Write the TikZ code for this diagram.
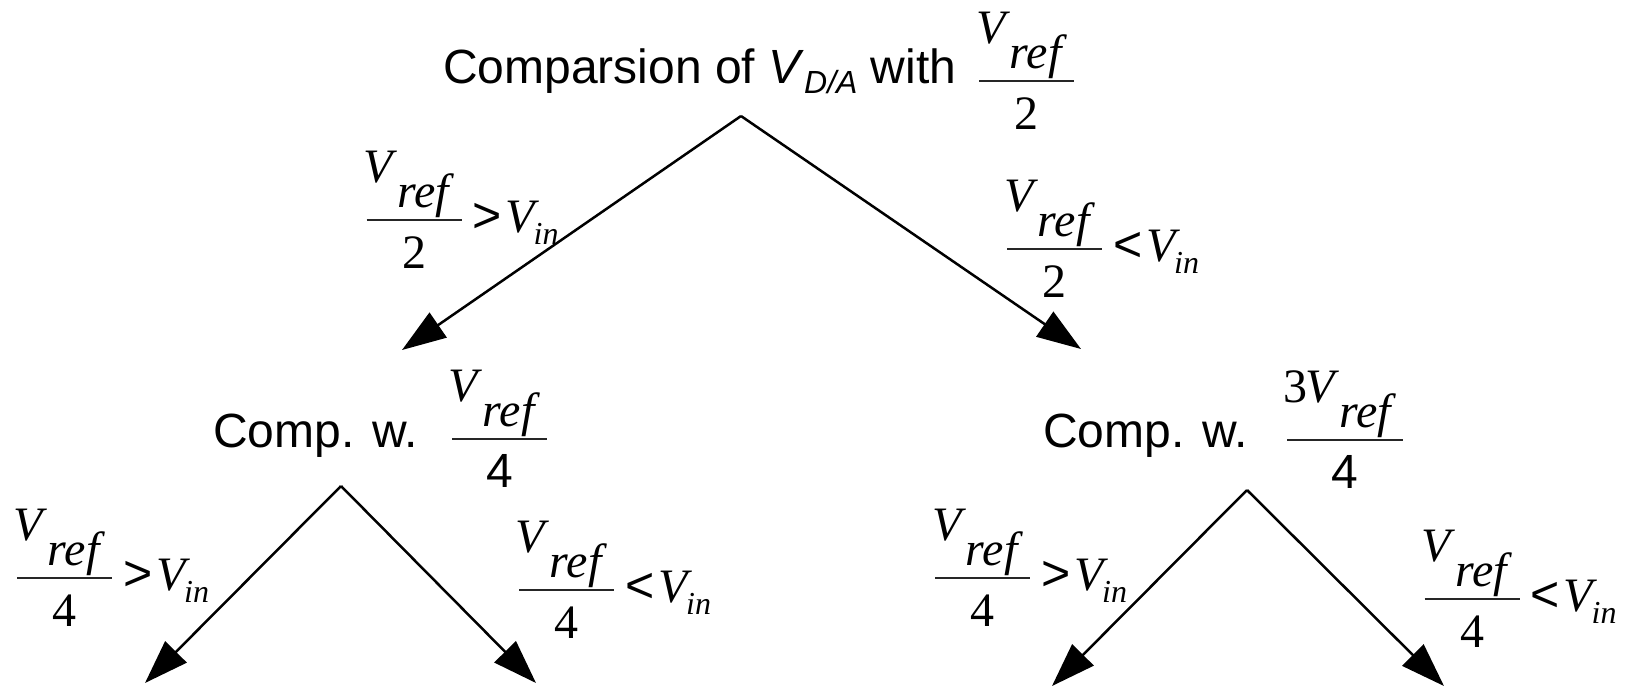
\documentclass[tikz,border=0pt]{standalone}
\usepackage{fontspec}
\setmainfont{Liberation Serif}
\newfontfamily\lsans{Liberation Sans}
\usetikzlibrary{arrows.meta}

\newcommand\vref{\textit{V}\raisebox{-12.5pt}{\textit{ref}}}
\newcommand\tvref{3\kern-1pt\textit{V}\raisebox{-12.5pt}{\textit{ref}}}
\newcommand\vin{\textit{V}\kern-3pt\raisebox{-6pt}{\fontsize{16}{16}\selectfont\textit{in}}}
\newcommand\gt{{\lsans\fontsize{25}{25}\selectfont >}}
\newcommand\lt{{\lsans\fontsize{25}{25}\selectfont <}}
% fraction: name, cx, cy, width, numerator, denominator
\newcommand\fracpart[6]{%
  \node[txt, anchor=base] (#1-n) at ({#2-5},{#3-38}) {#5};
  \draw[fbar] ({#2-#4/2},#3) -- ({#2+#4/2},#3);
  \node[txt, anchor=base] (#1-d) at (#2,{#3+48}) {#6};}
% relation: name, cx, cy, width, text
\newcommand\relpart[5]{%
  \node[txt, anchor=base west] (#1-r) at ({#2+#4/2+11},{#3+12}) {#5};}

\begin{document}
\begin{tikzpicture}[x=0.5pt,y=-0.5pt,
  txt/.style={inner sep=0pt, outer sep=0pt, font=\fontsize{24}{28}\selectfont},
  sanstxt/.style={inner sep=0pt, outer sep=0pt, font=\lsans\fontsize{24}{28}\selectfont},
  fbar/.style={line width=0.9pt, black!85},
  arr/.style={line width=1.25pt, -{Triangle[length=22pt,width=15pt]}},
]
\useasboundingbox (0,0) rectangle (1629,687);

% title
\node[sanstxt, anchor=base west] (title) at (443,83)
  {Comparsion of \textit{V}\raisebox{-5pt}{\fontsize{16}{16}\selectfont\textit{D/A}} with};
\fracpart{T}{1026.5}{81}{95}{\vref}{2}

% first level labels
\fracpart{UL}{414}{220}{95}{\vref}{2}
\relpart{UL}{414}{220}{95}{\gt\hspace{2pt}\vin}
\fracpart{UR}{1054.5}{249}{95}{\vref}{2}
\relpart{UR}{1054.5}{249}{95}{\lt\hspace{2pt}\vin}

% second level nodes
\node[sanstxt, anchor=base west] (cl) at (213,447) {Comp. w.};
\fracpart{ML}{499.5}{439}{95}{\vref}{\lsans 4}
\node[sanstxt, anchor=base west] (cr) at (1043,447) {Comp. w.};
\fracpart{MR}{1345}{440}{116}{\tvref}{\lsans 4}

% bottom labels
\fracpart{LL}{64.5}{578}{95}{\vref}{4}
\relpart{LL}{64.5}{578}{95}{\gt\hspace{2pt}\vin}
\fracpart{LR}{566.5}{590}{95}{\vref}{4}
\relpart{LR}{566.5}{590}{95}{\lt\hspace{2pt}\vin}
\fracpart{RL}{982.5}{578}{95}{\vref}{4}
\relpart{RL}{982.5}{578}{95}{\gt\hspace{2pt}\vin}
\fracpart{RR}{1472}{599}{95}{\vref}{4}
\relpart{RR}{1472}{599}{95}{\lt\hspace{2pt}\vin}

% arrows
\coordinate (a0) at (741,116);
\coordinate (t0l) at (402,350);
\coordinate (t0r) at (1081,349);
\coordinate (a1) at (341,486);
\coordinate (t1l) at (145,683);
\coordinate (t1r) at (536,683);
\coordinate (a2) at (1247,490);
\coordinate (t2l) at (1052,686);
\coordinate (t2r) at (1444,686);
\draw[arr] (a0) -- (t0l);
\draw[arr] (a0) -- (t0r);
\draw[arr] (a1) -- (t1l);
\draw[arr] (a1) -- (t1r);
\draw[arr] (a2) -- (t2l);
\draw[arr] (a2) -- (t2r);
\end{tikzpicture}
\end{document}
